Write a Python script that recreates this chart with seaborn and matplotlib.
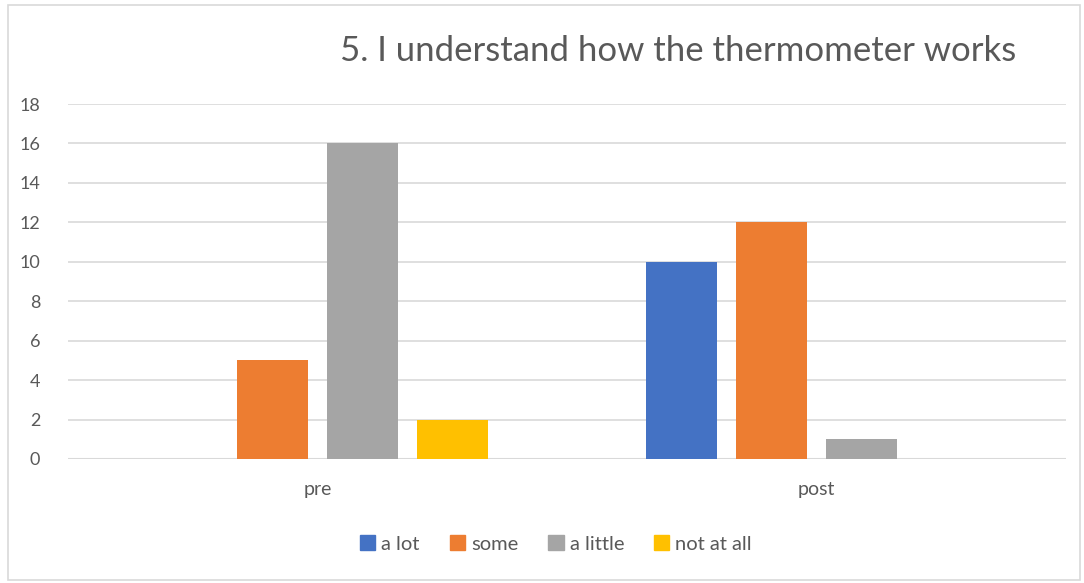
import pandas as pd
import seaborn as sns
import matplotlib.pyplot as plt
from matplotlib.patches import Rectangle

# data
groups = ['pre', 'post']
responses = ['a lot', 'some', 'a little', 'not at all']
pre_counts = [0, 5, 16, 2]
post_counts = [10, 12, 1, 0]
colors = ['#4472C4', '#ED7D31', '#A5A5A5', '#FFC000']

df = pd.DataFrame({
    'group': [g for g in groups for _ in responses],
    'response': responses * len(groups),
    'count': pre_counts + post_counts,
})

sns.set_theme(style='white')
plt.rcParams['font.family'] = ['Lato', 'DejaVu Sans']
text_color = '#595959'
grid_color = '#D9D9D9'

fig = plt.figure(figsize=(10.84, 5.83), dpi=100)
ax = fig.add_axes([0.0627, 0.2127, 0.9203, 0.6089])

sns.barplot(data=df, x='group', y='count', hue='response', order=groups,
            hue_order=responses, palette=colors, width=0.72, gap=0.21,
            saturation=1, linewidth=0, ax=ax, legend=False)

ax.set_ylim(0, 18)
ax.set_yticks(range(0, 19, 2))
ax.yaxis.grid(True, color=grid_color, linewidth=1.2)
ax.set_axisbelow(True)
for s in ax.spines.values():
    s.set_visible(False)
ax.axhline(0, color=grid_color, linewidth=1.5, zorder=0)
ax.set_xlabel('')
ax.set_ylabel('')
ax.tick_params(axis='y', length=0, pad=20, labelsize=13, labelcolor=text_color)
ax.tick_params(axis='x', length=0, pad=16, labelsize=14, labelcolor=text_color)

fig.text(0.6255, 0.913, '5. I understand how the thermometer works',
         ha='center', va='center', fontsize=25, color=text_color)

handles = [Rectangle((0, 0), 1, 1, color=c) for c in colors]
fig.legend(handles, responses, loc='center', bbox_to_anchor=(0.513, 0.067),
           ncol=4, frameon=False, fontsize=14.5, handlelength=0.75,
           handleheight=0.75, handletextpad=0.3, columnspacing=1.5,
           labelcolor=text_color)

fig.patches.append(Rectangle((0.007, 0.005), 0.989, 0.987, transform=fig.transFigure,
                             fill=False, edgecolor=grid_color, linewidth=1.2))

fig.savefig('out.png', dpi=100)
